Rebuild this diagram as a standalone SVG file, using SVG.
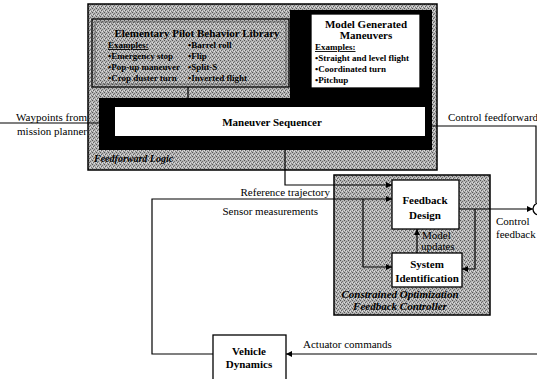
<svg xmlns="http://www.w3.org/2000/svg" width="537" height="379" viewBox="0 0 537 379" font-family="'Liberation Serif', 'Times New Roman', serif">
<defs>
<pattern id="stip" width="4" height="4" patternUnits="userSpaceOnUse">
<rect width="4" height="4" fill="#b4b4b4"/>
<rect x="0" y="0" width="1" height="1" fill="#555"/>
<rect x="2" y="1" width="1" height="1" fill="#707070"/>
<rect x="1" y="2" width="1" height="1" fill="#606060"/>
<rect x="3" y="3" width="1" height="1" fill="#7a7a7a"/>
<rect x="2" y="3" width="1" height="1" fill="#e0e0e0"/>
<rect x="0" y="2" width="1" height="1" fill="#dcdcdc"/>
</pattern>
<marker id="ah" viewBox="0 0 10 10" refX="10" refY="5" markerWidth="6" markerHeight="6" orient="auto" markerUnits="userSpaceOnUse">
<path d="M0,0 L10,5 L0,10 z" fill="#000"/>
</marker>
</defs>
<style>
text{font-family:'Liberation Serif','Times New Roman',serif;fill:#000}
.t{font-weight:bold;font-size:11px;text-anchor:middle}
.it{font-weight:bold;font-size:9px}
.lb{font-size:11px}
.bi{font-weight:bold;font-style:italic}
.box{fill:#fff;stroke:#000;stroke-width:1.3}
.c{fill:none;stroke:#000;stroke-width:1.2}
.a{marker-end:url(#ah)}
</style>
<g id="feedforward-logic">
<rect x="88" y="4" width="349" height="166" fill="url(#stip)" stroke="#000" stroke-width="1.5"/>
<rect x="99" y="10" width="333" height="140" fill="#000"/>
<rect x="89" y="5" width="201" height="93" fill="url(#stip)"/>
<text class="bi" x="94" y="162" font-size="10">Feedforward Logic</text>
</g>
<g id="pilot-library">
<rect x="92" y="19" width="197" height="68" fill="none" stroke="#000" stroke-width="1.3"/>
<rect x="95" y="22" width="191" height="62" fill="none" stroke="#333" stroke-width="0.6"/>
<text class="t" x="197" y="37" font-size="12">Elementary Pilot Behavior Library</text>
<text class="it" x="108" y="48" text-decoration="underline">Examples:</text>
<text class="it" x="108" y="59">•Emergency stop</text>
<text class="it" x="108" y="70">•Pop-up maneuver</text>
<text class="it" x="108" y="81">•Crop duster turn</text>
<text class="it" x="188" y="48">•Barrel roll</text>
<text class="it" x="188" y="59">•Flip</text>
<text class="it" x="188" y="70">•Split-S</text>
<text class="it" x="188" y="81">•Inverted flight</text>
</g>
<g id="model-maneuvers">
<rect class="box" x="311" y="14" width="109" height="74"/>
<text class="t" x="366" y="28">Model Generated</text>
<text class="t" x="366" y="39">Maneuvers</text>
<text class="it" x="315" y="50" text-decoration="underline">Examples:</text>
<text class="it" x="315" y="61">•Straight and level flight</text>
<text class="it" x="315" y="72">•Coordinated turn</text>
<text class="it" x="315" y="83">•Pitchup</text>
</g>
<g id="maneuver-sequencer">
<rect x="115" y="107" width="310" height="29" fill="#fff"/>
<text class="t" x="272" y="126">Maneuver Sequencer</text>
</g>
<g id="constrained-controller">
<rect x="334" y="175" width="156" height="140" fill="url(#stip)" stroke="#000" stroke-width="1.5"/>
<text class="t bi" x="400" y="298">Constrained Optimization</text>
<text class="t bi" x="400" y="310">Feedback Controller</text>
</g>
<g id="feedback-design">
<rect class="box" x="392" y="180" width="67" height="49"/>
<text class="t" x="425" y="204">Feedback</text>
<text class="t" x="425" y="219">Design</text>
</g>
<g id="system-identification">
<rect class="box" x="392" y="253" width="70" height="34"/>
<text class="t" x="427" y="268">System</text>
<text class="t" x="427" y="282">Identification</text>
</g>
<g id="vehicle-dynamics">
<rect class="box" x="213" y="335" width="73" height="50"/>
<text class="t" x="249" y="355">Vehicle</text>
<text class="t" x="249" y="368">Dynamics</text>
</g>
<g id="summing-junction">
<circle cx="539" cy="209" r="6" fill="#fff" stroke="#000" stroke-width="1.3"/>
</g>
<g id="connectors">
<path class="c" d="M188,87 V98"/>
<path class="c" d="M0,123 H99"/>
<path class="c" d="M432,126 H536 V203"/>
<path class="c a" d="M285,150 V185 H392"/>
<path class="c a" d="M213,354 H152 V199 H392"/>
<path class="c a" d="M363,199 V267 H392"/>
<path class="c a" d="M459,209 H533"/>
<path class="c a" d="M475,209 V269 H462"/>
<path class="c a" d="M417,253 V229"/>
<path class="c a" d="M537,354 H286"/>
</g>
<g id="labels">
<text class="lb" x="87" y="121" text-anchor="end" font-size="12.5">Waypoints from</text>
<text class="lb" x="87" y="135" text-anchor="end" font-size="12.5">mission planner</text>
<text class="lb" x="448" y="121" font-size="12">Control feedforward</text>
<text class="lb" x="330" y="196" text-anchor="end">Reference trajectory</text>
<text class="lb" x="318" y="215" text-anchor="end">Sensor measurements</text>
<text class="lb" x="422" y="238.5" font-size="9">Model</text>
<text class="lb" x="421" y="250" font-size="9">updates</text>
<text class="lb" x="496" y="225">Control</text>
<text class="lb" x="496" y="238">feedback</text>
<text class="lb" x="303" y="348">Actuator commands</text>
</g>
</svg>
